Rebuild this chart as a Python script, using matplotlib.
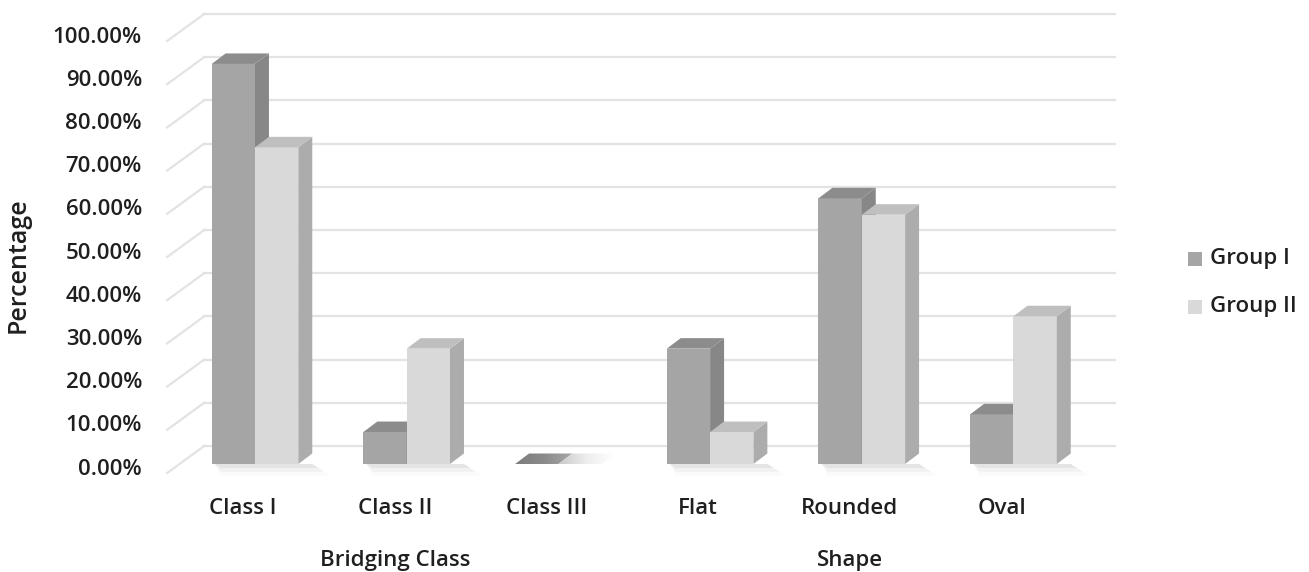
import numpy as np
import matplotlib
matplotlib.use("Agg")
import matplotlib.pyplot as plt
from matplotlib.patches import Polygon, Rectangle
from matplotlib.colors import LinearSegmentedColormap

categories = ["Class I", "Class II", "Class III", "Flat", "Rounded", "Oval"]
group_titles = ["Bridging Class", "Shape"]
group_members = [[0, 1, 2], [3, 4, 5]]
series_names = ["Group I", "Group II"]
group1 = [92.6, 7.4, 0.0, 26.7, 61.5, 11.5]
group2 = [73.3, 26.7, 0.0, 7.4, 57.7, 34.2]
yticks = [0, 10, 20, 30, 40, 50, 60, 70, 80, 90, 100]

FONT = "Open Sans"
WEIGHT = "semibold"
TXT = "#1f1f1f"
GRID = "#e3e3e3"

# face colours: front, top, side
faces = [("#a5a5a5", "#8c8c8c", "#878787"),
         ("#d9d9d9", "#bfbfbf", "#acacac")]

W = 0.2855           # bar width in category units
DX, DY = 0.092, 2.43  # bar depth
# wall planes relative to the bar plane
FX, FY = -0.079, -2.08
BX, BY = 0.165, 4.17


def draw_bar(ax, xl, h, cols, z):
    xr = xl + W
    ax.bar(xl, h, width=W, align="edge", color=cols[0], zorder=z)
    side = [(xr, 0), (xr + DX, DY), (xr + DX, h + DY), (xr, h)]
    ax.add_patch(Polygon(side, closed=True, fc=cols[2], ec="none", zorder=z))
    if h > 0:
        top = [(xl, h), (xr, h), (xr + DX, h + DY), (xl + DX, h + DY)]
        ax.add_patch(Polygon(top, closed=True, fc=cols[1], ec="none", zorder=z))


def flat_top(ax, xl, fade, z):
    xr = xl + W
    top = Polygon([(xl, 0), (xr, 0), (xr + DX, DY), (xl + DX, DY)],
                  closed=True, fc="none", ec="none", zorder=z)
    ax.add_patch(top)
    cmap = LinearSegmentedColormap.from_list("f", fade)
    grad = np.linspace(0, 1, 100).reshape(1, -1)
    im = ax.imshow(grad, cmap=cmap, extent=[xl, xr + DX, 0, DY],
                   aspect="auto", zorder=z, interpolation="bilinear")
    im.set_clip_path(top)


def floor_shadow(ax, xl, xr):
    # soft shadow cast on the floor in front of a bar pair
    for k, a in enumerate([0.05, 0.035, 0.02]):
        d = 0.9 * (k + 1)
        ax.add_patch(Polygon([(xl + 0.02, 0), (xr + DX, 0),
                              (xr + DX + 0.04 * (k + 1), -d), (xl + 0.06, -d)],
                             closed=True, fc="black", ec="none", alpha=a, zorder=2))


def main():
    fig = plt.figure(figsize=(13.09, 5.72), dpi=100)
    ax = fig.add_axes([0, 0, 1, 1])

    n = len(categories)
    x_left = FX - 0.5

    # back wall gridlines and left wall diagonals
    for t in yticks:
        ax.plot([x_left + BX - FX, 5.67], [t + BY, t + BY], color=GRID, lw=1.6, zorder=1)
        ax.plot([x_left, x_left + BX - FX], [t + FY, t + BY], color=GRID, lw=1.6, zorder=1)
        ax.text(-0.745, t - 1.2, "%.2f%%" % t, ha="right", va="center",
                fontsize=16, family=FONT, weight=WEIGHT, color=TXT)

    for i in range(n):
        xs = i - W
        if group1[i] > 0 or group2[i] > 0:
            floor_shadow(ax, xs, xs + 2 * W)
            draw_bar(ax, xs, group1[i], faces[0], 3)
            draw_bar(ax, xs + W, group2[i], faces[1], 4)
        else:
            flat_top(ax, xs, ["#7d7d7d", "#8a8a8a", "#a8a8a8"], 3)
            flat_top(ax, xs + W, ["#c8c8c8", "#eeeeee", "#ffffff"], 4)
        ax.text(i + FX, -10.2, categories[i], ha="center", va="center",
                fontsize=16, family=FONT, weight=WEIGHT, color=TXT)

    for title, members in zip(group_titles, group_members):
        ax.text(np.mean(members) + FX, -22.3, title, ha="center", va="center",
                fontsize=16, family=FONT, weight=WEIGHT, color=TXT)

    ax.text(-1.56, 46, "Percentage", rotation=90, ha="center", va="center",
            fontsize=18, family=FONT, weight=WEIGHT, color=TXT)

    # legend
    for k, (name, ys) in enumerate(zip(series_names, [47.4, 36.3])):
        ax.add_patch(Rectangle((6.150, ys - 1.6), 0.093, 3.2,
                               fc=faces[k][0], ec="none"))
        ax.text(6.295, ys + 0.2, name, ha="left", va="center",
                fontsize=16, family=FONT, weight=WEIGHT, color=TXT)

    ax.set_xlim(-1.681, 6.948)
    ax.set_ylim(-25.0, 107.4)
    ax.axis("off")
    fig.savefig("out.png", dpi=100)


if __name__ == "__main__":
    main()
